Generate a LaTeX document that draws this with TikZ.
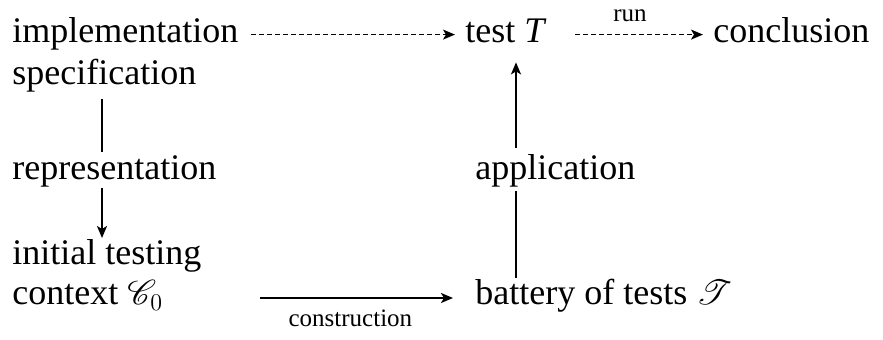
\documentclass[tikz,border=0pt]{standalone}
\usepackage{fontspec,mathrsfs}
\setmainfont{Liberation Serif}
\usetikzlibrary{arrows.meta,positioning}
\tikzset{>={Stealth[length=6pt,width=5pt,inset=1.5pt]},every node/.style={font=\fontsize{18}{21}\selectfont,inner sep=0pt,anchor=base west,text height=12.3pt,text depth=3.9pt},
flow/.style={line width=.9pt,->},dflow/.style={line width=.7pt,->,dash pattern=on 2.5pt off 1.5pt},edge/.style={line width=.9pt},lab/.style={font=\fontsize{12.5}{14}\selectfont,text height=,text depth=}}

\begin{document}
\begin{tikzpicture}[x=.5pt,y=-.5pt]
\useasboundingbox (0,0) rectangle (883,340);
\coordinate (col1) at (102,0);\coordinate (col2) at (516,0);
\node (impl) at (12,43){implementation};\node (spec) at (12,85){specification};
\node (repr) at (12,180){representation};\node (init) at (12,265){initial testing};\node (ctx) at (12,305){context $\mathscr{C}_0$};
\node (testT) at (465,43){test \textit{T}};\node (concl) at (713,43){conclusion};
\node (app) at (475,180){application};\node (bat) at (475,305){battery of tests $\mathscr{T}$};
% top row
\draw[dflow,shorten <=6pt,shorten >=5pt] (impl.east)--(impl.east-|testT.west);
\draw[dflow,shorten <=14pt,shorten >=5pt] (testT.east|-impl.east)--(concl.west|-impl.east) node[lab,midway,above=6pt]{run};
% left column
\draw[edge,shorten <=3pt,shorten >=1.7pt] (spec.south-|col1)--(repr.north-|col1);\draw[flow,shorten >=1pt] (repr.south-|col1)--(init.north-|col1);
% right column
\draw[edge,shorten <=1pt,shorten >=1.2pt] (bat.north-|col2)--(app.south-|col2);\draw[flow,shorten <=3.7pt,shorten >=5.6pt] (app.north-|col2)--(testT.south-|col2);
\draw[flow,shorten <=48pt,shorten >=11pt] ([yshift=-.7pt]ctx.east)--([yshift=-.7pt]ctx.east-|bat.west) node[lab,pos=.6,below=5.5pt]{construction};
\end{tikzpicture}
\end{document}
